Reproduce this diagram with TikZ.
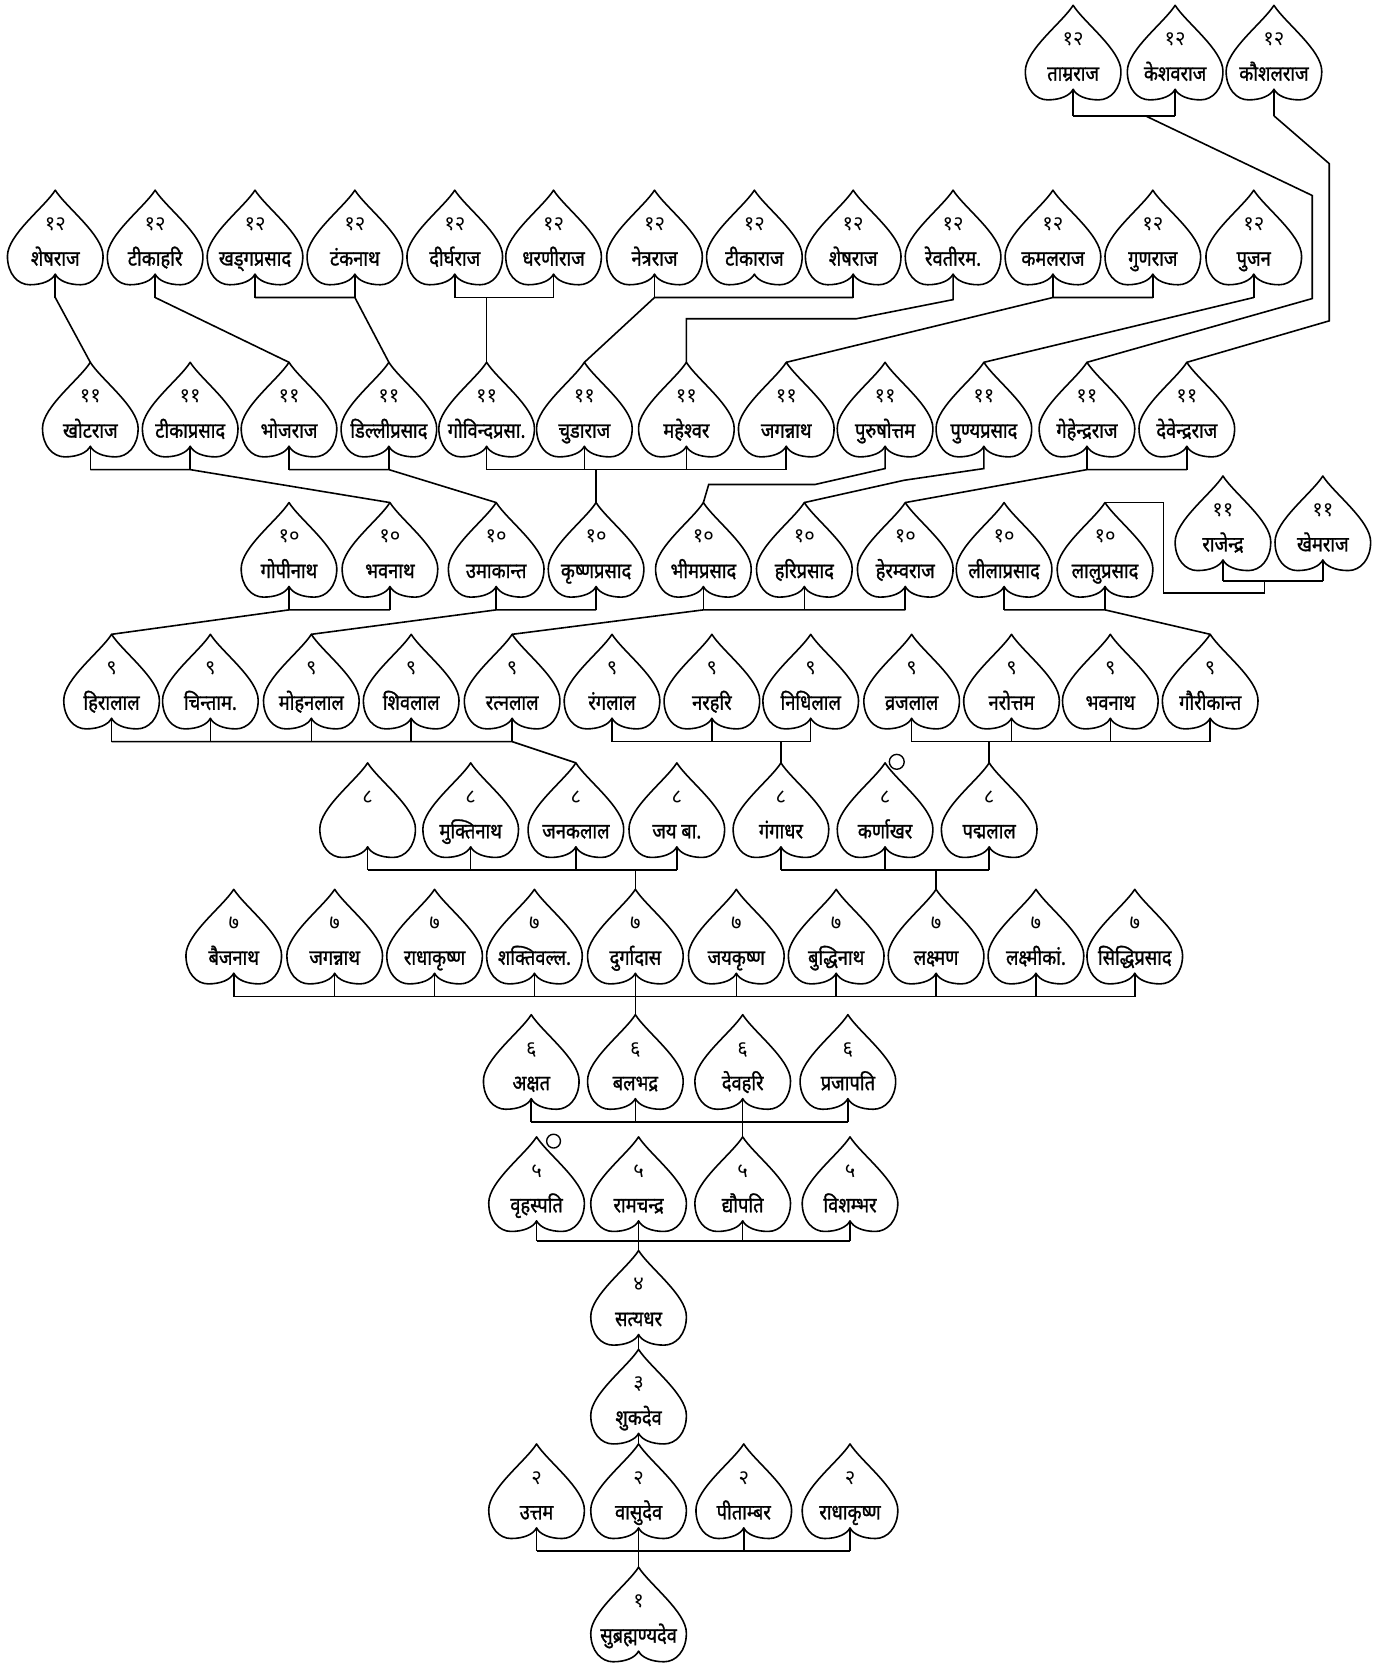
\documentclass[tikz,border=0pt]{standalone}
\usepackage{fontspec}
\newfontfamily\dev[Script=Devanagari]{Noto Sans}
\newfontfamily\devname[Script=Devanagari, FakeStretch=0.86, FakeBold=1.2]{Noto Sans}
\tikzset{
  leafline/.style={line width=1.5pt, line join=round},
  link/.style={line width=1.5pt, line join=miter},
  numtext/.style={font=\dev\fontsize{19}{21}\selectfont, inner sep=0pt, anchor=base},
  nametext/.style={font=\devname\fontsize{20}{22}\selectfont, inner sep=0pt, anchor=base},
  markcircle/.style={line width=1.3pt, fill=white},
  pics/leaf/.style n args={2}{code={
    \draw[leafline] (0,0) .. controls (10,16) and (45,42) .. (45,62)
       .. controls (45,79) and (35,89) .. (24,89)
       .. controls (12,89) and (3,85) .. (0,79)
       .. controls (-3,85) and (-12,89) .. (-24,89)
       .. controls (-35,89) and (-45,79) .. (-45,62)
       .. controls (-45,42) and (-10,16) .. (0,0) -- cycle;
    \coordinate (-tip) at (0,0);
    \coordinate (-bot) at (0,79);
    \node[numtext] (-num) at (0,38) {#1};
    \node[nametext] (-name) at (0,71) {#2};
  }}
}
\newcommand\famkids[2]{\foreach \k in {#2}{\draw[link] (\k-bot) -- (\k-bot |- #1);}}
\begin{document}
\begin{tikzpicture}[x=1pt,y=-1pt]
\useasboundingbox (0,0) rectangle (1314,1568);
% bar levels
\coordinate (yA) at (0,109);
\coordinate (yB) at (0,280);
\coordinate (yC) at (0,442);
\coordinate (yR) at (0,547);
\coordinate (yD) at (0,574);
\coordinate (yE) at (0,698);
\coordinate (yF) at (0,819);
\coordinate (yG) at (0,938);
\coordinate (yH) at (0,1056);
\coordinate (yI) at (0,1168);
\coordinate (yL) at (0,1460);
% Row A (12)
\pic (A1) at (1010,5) {leaf={१२}{ताम्रराज}};
\pic (A2) at (1106,5) {leaf={१२}{केशवराज}};
\pic (A3) at (1199,5) {leaf={१२}{कौशलराज}};
% Row B (12)
\pic (B1) at (52,179) {leaf={१२}{शेषराज}};
\pic (B2) at (146,179) {leaf={१२}{टीकाहरि}};
\pic (B3) at (240,179) {leaf={१२}{खड्गप्रसाद}};
\pic (B4) at (334,179) {leaf={१२}{टंकनाथ}};
\pic (B5) at (428,179) {leaf={१२}{दीर्घराज}};
\pic (B6) at (521,179) {leaf={१२}{धरणीराज}};
\pic (B7) at (616,179) {leaf={१२}{नेत्रराज}};
\pic (B8) at (710,179) {leaf={१२}{टीकाराज}};
\pic (B9) at (803,179) {leaf={१२}{शेषराज}};
\pic (B10) at (897,179) {leaf={१२}{रेवतीरम.}};
\pic (B11) at (991,179) {leaf={१२}{कमलराज}};
\pic (B12) at (1085,179) {leaf={१२}{गुणराज}};
\pic (B13) at (1180,179) {leaf={१२}{पुजन}};
% Row C (11)
\pic (C1) at (85,341) {leaf={११}{खोटराज}};
\pic (C2) at (179,341) {leaf={११}{टीकाप्रसाद}};
\pic (C3) at (272,341) {leaf={११}{भोजराज}};
\pic (C4) at (366,341) {leaf={११}{डिल्लीप्रसाद}};
\pic (C5) at (458,341) {leaf={११}{गोविन्दप्रसा.}};
\pic (C6) at (550,341) {leaf={११}{चुडाराज}};
\pic (C7) at (646,341) {leaf={११}{महेश्वर}};
\pic (C8) at (740,341) {leaf={११}{जगन्नाथ}};
\pic (C9) at (833,341) {leaf={११}{पुरुषोत्तम}};
\pic (C10) at (926,341) {leaf={११}{पुण्यप्रसाद}};
\pic (C11) at (1023,341) {leaf={११}{गेहेन्द्रराज}};
\pic (C12) at (1117,341) {leaf={११}{देवेन्द्रराज}};
\pic (R1) at (1151,448) {leaf={११}{राजेन्द्र}};
\pic (R2) at (1245,448) {leaf={११}{खेमराज}};
% Row D (10)
\pic (D1) at (272,473) {leaf={१०}{गोपीनाथ}};
\pic (D2) at (367,473) {leaf={१०}{भवनाथ}};
\pic (D3) at (467,473) {leaf={१०}{उमाकान्त}};
\pic (D4) at (561,473) {leaf={१०}{कृष्णप्रसाद}};
\pic (D5) at (662,473) {leaf={१०}{भीमप्रसाद}};
\pic (D6) at (757,473) {leaf={१०}{हरिप्रसाद}};
\pic (D7) at (852,473) {leaf={१०}{हेरम्वराज}};
\pic (D8) at (945,473) {leaf={१०}{लीलाप्रसाद}};
\pic (D9) at (1040,473) {leaf={१०}{लालुप्रसाद}};
% Row E (9)
\pic (E1) at (105,597) {leaf={९}{हिरालाल}};
\pic (E2) at (198,597) {leaf={९}{चिन्ताम.}};
\pic (E3) at (293,597) {leaf={९}{मोहनलाल}};
\pic (E4) at (387,597) {leaf={९}{शिवलाल}};
\pic (E5) at (482,597) {leaf={९}{रत्नलाल}};
\pic (E6) at (576,597) {leaf={९}{रंगलाल}};
\pic (E7) at (670,597) {leaf={९}{नरहरि}};
\pic (E8) at (763,597) {leaf={९}{निधिलाल}};
\pic (E9) at (858,597) {leaf={९}{व्रजलाल}};
\pic (E10) at (952,597) {leaf={९}{नरोत्तम}};
\pic (E11) at (1045,597) {leaf={९}{भवनाथ}};
\pic (E12) at (1139,597) {leaf={९}{गौरीकान्त}};
% Row F (8)
\pic (F1) at (346,718) {leaf={८}{}};
\pic (F2) at (443,718) {leaf={८}{मुक्तिनाथ}};
\pic (F3) at (542,718) {leaf={८}{जनकलाल}};
\pic (F4) at (637,718) {leaf={८}{जय बा.}};
\pic (F5) at (735,718) {leaf={८}{गंगाधर}};
\pic (F6) at (833,718) {leaf={८}{कर्णाखर}};
\pic (F7) at (931,718) {leaf={८}{पद्मलाल}};
% Row G (7)
\pic (G1) at (220,837) {leaf={७}{बैजनाथ}};
\pic (G2) at (315,837) {leaf={७}{जगन्नाथ}};
\pic (G3) at (409,837) {leaf={७}{राधाकृष्ण}};
\pic (G4) at (503,837) {leaf={७}{शक्तिवल्ल.}};
\pic (G5) at (598,837) {leaf={७}{दुर्गादास}};
\pic (G6) at (693,837) {leaf={७}{जयकृष्ण}};
\pic (G7) at (787,837) {leaf={७}{बुद्धिनाथ}};
\pic (G8) at (881,837) {leaf={७}{लक्ष्मण}};
\pic (G9) at (975,837) {leaf={७}{लक्ष्मीकां.}};
\pic (G10) at (1068,837) {leaf={७}{सिद्धिप्रसाद}};
% Row H (6)
\pic (H1) at (500,955) {leaf={६}{अक्षत}};
\pic (H2) at (598,955) {leaf={६}{बलभद्र}};
\pic (H3) at (699,955) {leaf={६}{देवहरि}};
\pic (H4) at (798,955) {leaf={६}{प्रजापति}};
% Row I (5)
\pic (I1) at (505,1070) {leaf={५}{वृहस्पति}};
\pic (I2) at (601,1070) {leaf={५}{रामचन्द्र}};
\pic (I3) at (699,1070) {leaf={५}{द्यौपति}};
\pic (I4) at (800,1070) {leaf={५}{विशम्भर}};
% Rows J-M
\pic (J1) at (601,1177) {leaf={४}{सत्यधर}};
\pic (K1) at (601,1270) {leaf={३}{शुकदेव}};
\pic (L1) at (505,1359) {leaf={२}{उत्तम}};
\pic (L2) at (601,1359) {leaf={२}{वासुदेव}};
\pic (L3) at (700,1359) {leaf={२}{पीताम्बर}};
\pic (L4) at (800,1359) {leaf={२}{राधाकृष्ण}};
\pic (M1) at (601,1475) {leaf={१}{सुब्रह्मण्यदेव}};
% small circles
\draw[markcircle] ([shift={(11,-1)}]F6-tip) circle[radius=7];
\draw[markcircle] ([shift={(16,4)}]I1-tip) circle[radius=6.5];

% ---- connectors ----
% gen1 <- gen2
\famkids{yL}{L1,L2,L3,L4}
\draw[link] (L1-bot |- yL) -- (L4-bot |- yL);
\draw[link] (M1-tip |- yL) -- (M1-tip);
\draw[link] (K1-bot) -- (L2-tip);
\draw[link] (J1-bot) -- (K1-tip);
% gen4 <- gen5
\famkids{yI}{I1,I2,I3,I4}
\draw[link] (I1-bot |- yI) -- (I4-bot |- yI);
\draw[link] (J1-tip |- yI) -- (J1-tip);
% gen5 <- gen6
\famkids{yH}{H1,H2,H3,H4}
\draw[link] (H1-bot |- yH) -- (H4-bot |- yH);
\draw[link] (I3-tip |- yH) -- (I3-tip);
% gen6 <- gen7
\famkids{yG}{G1,G2,G3,G4,G5,G6,G7,G8,G9,G10}
\draw[link] (G1-bot |- yG) -- (G10-bot |- yG);
\draw[link] (H2-tip |- yG) -- (H2-tip);
% gen7 <- gen8
\famkids{yF}{F1,F2,F3,F4,F5,F6,F7}
\draw[link] (F1-bot |- yF) -- (F4-bot |- yF);
\draw[link] (G5-tip |- yF) -- (G5-tip);
\draw[link] (F5-bot |- yF) -- (F7-bot |- yF);
\draw[link] (G8-tip |- yF) -- (G8-tip);
% gen8 <- gen9
\famkids{yE}{E1,E2,E3,E4,E5,E6,E7,E8,E9,E10,E11,E12}
\draw[link] (E1-bot |- yE) -- (E5-bot |- yE) -- (F3-tip);
\draw[link] (E6-bot |- yE) -- (E8-bot |- yE);
\draw[link] (F5-tip |- yE) -- (F5-tip);
\draw[link] (E9-bot |- yE) -- (E12-bot |- yE);
\draw[link] (F7-tip |- yE) -- (F7-tip);
% gen9 <- gen10
\famkids{yD}{D1,D2,D3,D4,D5,D6,D7,D8,D9}
\draw[link] (E1-tip) -- (D1-bot |- yD) -- (D2-bot |- yD);
\draw[link] (E3-tip) -- (D3-bot |- yD) -- (D4-bot |- yD);
\draw[link] (E5-tip) -- (D5-bot |- yD) -- (D7-bot |- yD);
\draw[link] (D8-bot |- yD) -- (D9-bot |- yD) -- (E12-tip);
% gen10 <- gen11
\famkids{yC}{C1,C2,C3,C4,C5,C6,C7,C8,C11,C12}
\draw[link] (C1-bot |- yC) -- (C2-bot |- yC) -- (D2-tip);
\draw[link] (C3-bot |- yC) -- (C4-bot |- yC) -- (D3-tip);
\draw[link] (C5-bot |- yC) -- (C8-bot |- yC);
\draw[link] (D4-tip |- yC) -- (D4-tip);
\coordinate (p9a) at (833,441);
\coordinate (p9b) at (767,456);
\coordinate (p9c) at (667,456);
\draw[link] (C9-bot) -- (p9a) -- (p9b) -- (p9c) -- (D5-tip);
\coordinate (p10a) at (926,441);
\coordinate (p10b) at (851,452);
\draw[link] (C10-bot) -- (p10a) -- (p10b) -- (D6-tip);
\draw[link] (D7-tip) -- (C11-bot |- yC) -- (C12-bot |- yC);
% Rajendra / Khemraj
\famkids{yR}{R1,R2}
\draw[link] (R1-bot |- yR) -- (R2-bot |- yR);
\coordinate (pRa) at (1190,547);
\coordinate (pRb) at (1190,558);
\coordinate (pRc) at (1095,558);
\draw[link] (pRa) -- (pRb) -- (pRc) -- (pRc |- D9-tip) -- (D9-tip);
% gen11 <- gen12
\famkids{yB}{B1,B2,B3,B4,B5,B6,B7,B9,B11,B12,B13}
\draw[link] (B1-bot |- yB) -- (C1-tip);
\draw[link] (B2-bot |- yB) -- (C3-tip);
\draw[link] (B3-bot |- yB) -- (B4-bot |- yB) -- (C4-tip);
\draw[link] (B5-bot |- yB) -- (B6-bot |- yB);
\draw[link] (C5-tip |- yB) -- (C5-tip);
\draw[link] (C6-tip) -- (B7-bot |- yB) -- (B9-bot |- yB);
\coordinate (p10r) at (806,300);
\draw[link] (B10-bot) -- (897,282) -- (p10r) -- (C7-tip |- p10r) -- (C7-tip);
\draw[link] (C8-tip) -- (B11-bot |- yB) -- (B12-bot |- yB);
\draw[link] (B13-bot |- yB) -- (C10-tip);
% top group
\famkids{yA}{A1,A2,A3}
\draw[link] (A1-bot |- yA) -- (A2-bot |- yA);
\coordinate (pAa) at (1078,109);
\coordinate (pAb) at (1235,184);
\coordinate (pAc) at (1235,281);
\draw[link] (pAa) -- (pAb) -- (pAc) -- (C11-tip);
\coordinate (pKa) at (1251,154);
\coordinate (pKb) at (1251,302);
\draw[link] (A3-bot |- yA) -- (pKa) -- (pKb) -- (C12-tip);
\end{tikzpicture}
\end{document}
